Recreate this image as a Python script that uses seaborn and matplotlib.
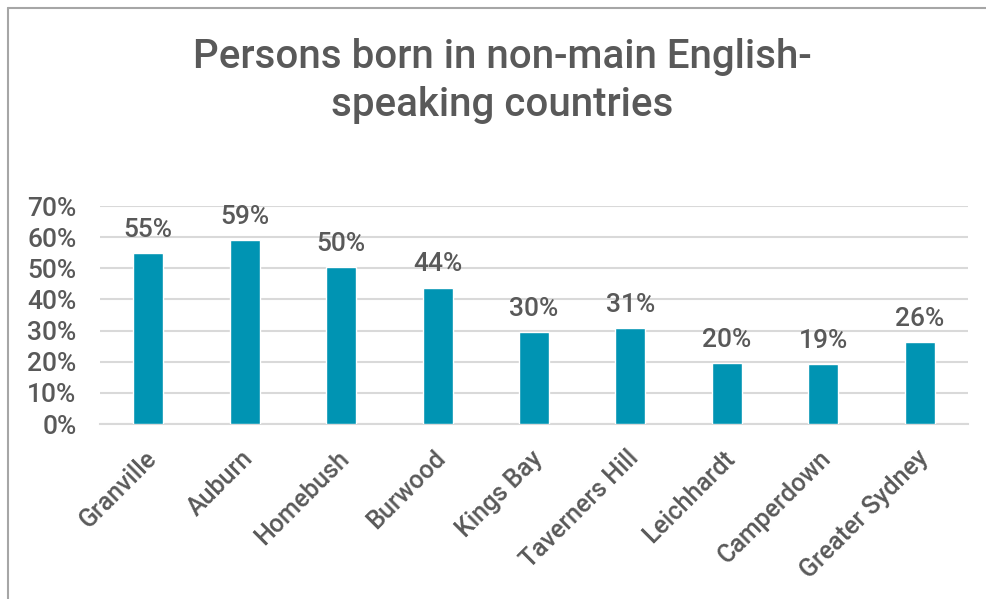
import matplotlib
matplotlib.use("Agg")
import matplotlib.pyplot as plt
import matplotlib.transforms as mtransforms
import seaborn as sns
import pandas as pd
from matplotlib.lines import Line2D
from matplotlib.ticker import PercentFormatter

categories = ["Granville", "Auburn", "Homebush", "Burwood", "Kings Bay",
              "Taverners Hill", "Leichhardt", "Camperdown", "Greater Sydney"]
values = [54.9, 59.2, 50.3, 43.8, 29.6, 30.8, 19.7, 19.3, 26.3]
labels = ["55%", "59%", "50%", "44%", "30%", "31%", "20%", "19%", "26%"]
title = "Persons born in non-main English-\nspeaking countries"

sns.set_theme(style="white")
plt.rcParams['font.family'] = ['Roboto', 'Liberation Sans', 'DejaVu Sans']
plt.rcParams['font.weight'] = 'medium'
TXT = "#595959"
BAR = "#0094B3"
GRID = "#D9D9D9"

df = pd.DataFrame({"cat": categories, "val": values})

fig = plt.figure(figsize=(9.86, 5.99), dpi=100)
ax = fig.add_axes([100/986, 1-424/599, 868/986, 218/599])

sns.barplot(data=df, x="cat", y="val", color=BAR, width=0.31, ax=ax,
            saturation=1, zorder=3)

ax.set_ylim(0, 70)
ax.set_yticks(range(0, 71, 10))
ax.yaxis.set_major_formatter(PercentFormatter(decimals=0))
ax.grid(axis="y", color=GRID, linewidth=1.5, zorder=0)
ax.set_axisbelow(True)
for s in ["top", "right", "left"]:
    ax.spines[s].set_visible(False)
ax.spines["bottom"].set_color(GRID)
ax.spines["bottom"].set_linewidth(1.5)
ax.set_xlabel("")
ax.set_ylabel("")
ax.tick_params(axis="y", length=0, pad=17, labelsize=19, labelcolor=TXT)
ax.tick_params(axis="x", length=0, pad=16, labelsize=18, labelcolor=TXT)
shift = mtransforms.ScaledTranslation(-4/100, 0, fig.dpi_scale_trans)
for lab in ax.get_xticklabels():
    lab.set_rotation(45)
    lab.set_horizontalalignment("right")
    lab.set_rotation_mode("anchor")
    lab.set_transform(lab.get_transform() + shift)

for i, (v, l) in enumerate(zip(values, labels)):
    ax.annotate(l, (i, v), xytext=(0, 8), textcoords="offset points",
                ha="center", va="bottom", fontsize=19, color=TXT)

fig.text(502/986, 1-81/599, title, ha="center", va="center", fontsize=29,
         color=TXT, linespacing=1.3)

fig.add_artist(Line2D([8/986, 8/986], [0, 1-8/599], color="#A6A6A6", lw=1.5))
fig.add_artist(Line2D([8/986, 1], [1-8/599, 1-8/599], color="#A6A6A6", lw=1.5))

fig.savefig("out.png", dpi=100, facecolor="white")
